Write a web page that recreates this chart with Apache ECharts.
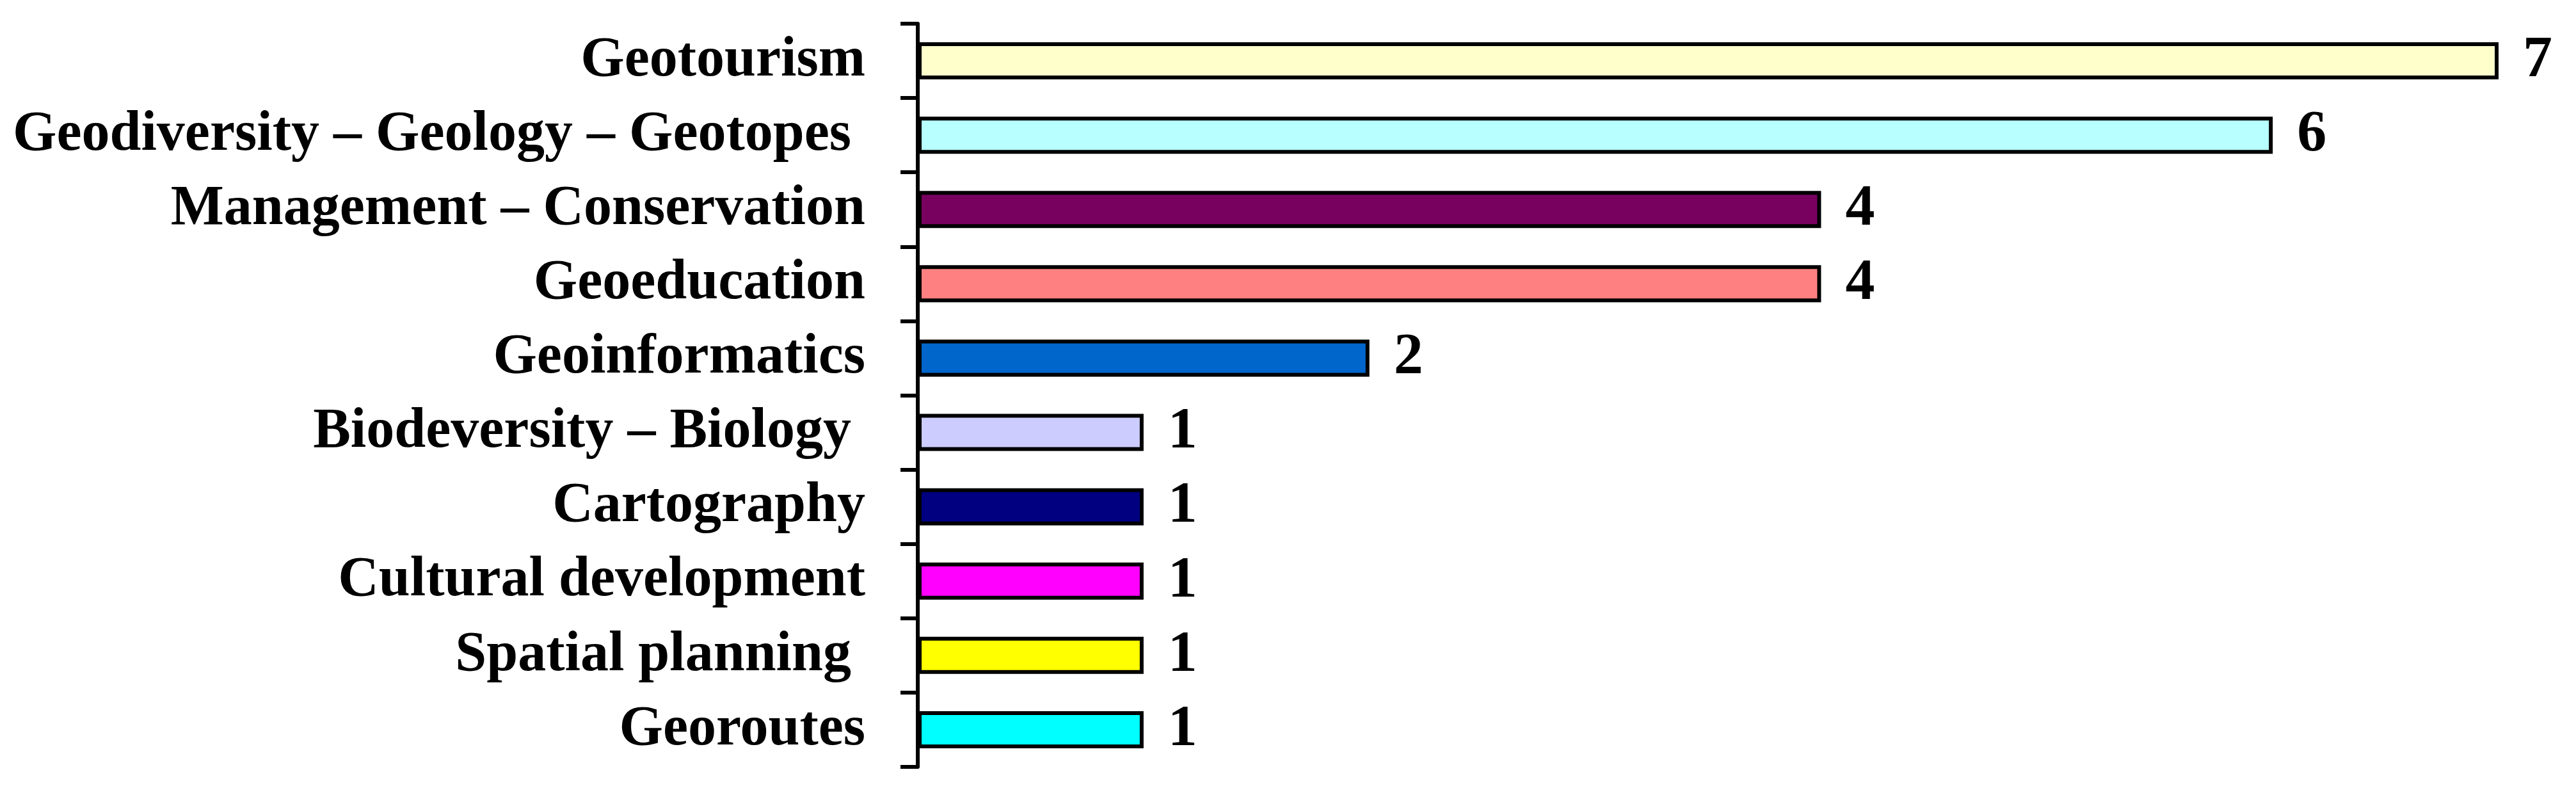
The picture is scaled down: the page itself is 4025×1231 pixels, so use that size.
<!DOCTYPE html>
<html>
<head>
<meta charset="utf-8">
<script src="https://cdn.jsdelivr.net/npm/echarts@6/dist/echarts.min.js"></script>
<style>
html, body { margin: 0; padding: 0; background: #fff; }
#main { width: 4025px; height: 1231px; }
</style>
</head>
<body>
<div id="main"></div>
<script>
// 类别、数值、颜色
var categories = ['Geotourism', 'Geodiversity – Geology – Geotopes ', 'Management – Conservation', 'Geoeducation',
	'Geoinformatics', 'Biodeversity – Biology ', 'Cartography', 'Cultural development', 'Spatial planning ', 'Georoutes'];
var counts = [7, 6, 4, 4, 2, 1, 1, 1, 1, 1];
var barColors = ['#FFFFCC', '#B8FFFF', '#78005F', '#FF8080', '#0066CC', '#CCCCFF', '#000080', '#FF00FF', '#FFFF00', '#00FFFF'];

var barData = new Array();
for (var i = 0; i < counts.length; i++) {
	barData.push({ value: counts[i], itemStyle: { color: barColors[i] } });
}

var myChart = echarts.init(document.getElementById('main'));
var option = {
	backgroundColor: '#fff',
	animation: false,
	grid: { left: 1434, right: 121, top: 37, bottom: 33, containLabel: false },
	xAxis: {
		type: 'value',
		min: 0,
		max: 7,
		show: false
	},
	yAxis: {
		type: 'category',
		inverse: true,
		data: categories,
		axisLine: { show: true, lineStyle: { color: '#000', width: 6 } },
		axisTick: { show: true, length: 27, lineStyle: { color: '#000', width: 6 } },
		axisLabel: {
			margin: 82,
			color: '#000',
			fontFamily: 'Liberation Serif',
			fontWeight: 'bold',
			fontSize: 88
		}
	},
	series: [{
		type: 'bar',
		data: barData,
		barWidth: 58,
		itemStyle: { borderColor: '#000', borderWidth: 6 },
		label: {
			show: true,
			position: 'right',
			distance: 38,
			color: '#000',
			fontFamily: 'Liberation Serif',
			fontWeight: 'bold',
			fontSize: 92
		}
	}]
};
myChart.setOption(option);
</script>
</body>
</html>
